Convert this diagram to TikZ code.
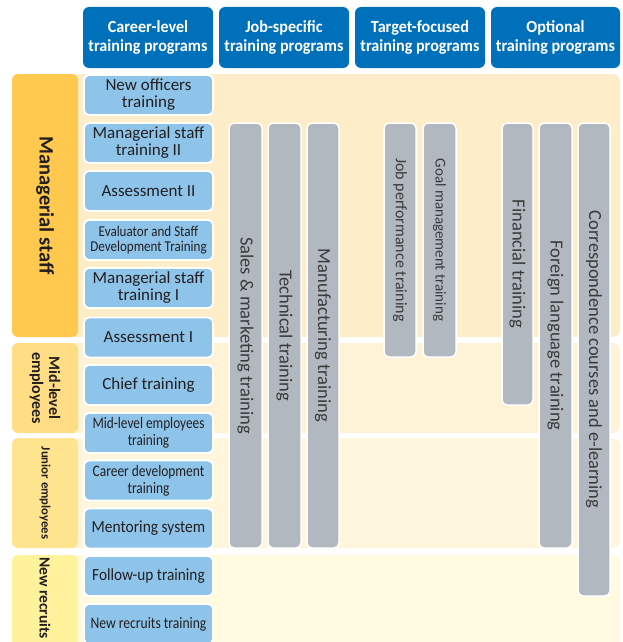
\documentclass[tikz,border=0pt]{standalone}
\usepackage{fontspec}
\setmainfont{Carlito}
\newfontfamily\cfEval[FakeStretch=0.87]{Carlito}
\newfontfamily\cfMid[FakeStretch=0.83]{Carlito}
\newfontfamily\cfCar[FakeStretch=0.84]{Carlito}
\newfontfamily\cfMen[FakeStretch=0.91]{Carlito}
\newfontfamily\cfFol[FakeStretch=0.9]{Carlito}
\newfontfamily\cfNew[FakeStretch=0.85]{Carlito}
\newfontfamily\cfHdr[FakeStretch=0.95]{Carlito}
\definecolor{hdrblue}{HTML}{0070BA}
\definecolor{boxblue}{HTML}{8EC4E9}
\definecolor{bargray}{HTML}{B2B8BF}
\definecolor{txt}{HTML}{231F20}
\definecolor{bartxt}{HTML}{3A3A3A}
\definecolor{bandA}{HTML}{FDEDC9}
\definecolor{bandB}{HTML}{FEF3D6}
\definecolor{bandC}{HTML}{FFF6DD}
\definecolor{bandD}{HTML}{FFFAE0}
\definecolor{lblA}{HTML}{FFC94F}
\definecolor{lblB}{HTML}{FFDD85}
\definecolor{lblC}{HTML}{FFE48F}
\definecolor{lblD}{HTML}{FFF29C}
\begin{document}
\begin{tikzpicture}[x=1pt,y=-1pt,
  hdr/.style={fill=hdrblue,rounded corners=6pt,minimum height=61pt,inner sep=0pt,
    text=white,align=center,font=\cfHdr\bfseries\fontsize{17}{19}\selectfont},
  bbox/.style={draw=white,line width=1.8pt,fill=boxblue,rounded corners=5pt,
    minimum width=129pt,minimum height=40pt,inner sep=0pt,align=center,text=txt,
    font=\fontsize{17}{17}\selectfont},
  gbar/.style={draw=white,line width=1.5pt,fill=bargray,rounded corners=5pt,
    rotate=-90,inner sep=0pt,text=bartxt,font=\fontsize{18.5}{18.5}\selectfont},
  lbl/.style={rounded corners=6pt,rotate=-90,inner sep=0pt,minimum height=66pt,
    text=txt,align=center},
]
\clip (0,0) rectangle (623,642);
\fill[white] (0,0) rectangle (623,642);
% background bands
\fill[bandA,rounded corners=8pt] (70,74) rectangle (620,337);
\fill[bandB,rounded corners=8pt] (70,343) rectangle (620,433);
\fill[bandC,rounded corners=8pt] (70,438) rectangle (620,548);
\fill[bandD,rounded corners=8pt] (70,555) rectangle (620,660);
% headers
\node[hdr,minimum width=130pt] (h1) at (148,37.5) {Career-level\\training programs};
\node[hdr,minimum width=130pt] (h2) at (284,37.5) {Job-specific\\training programs};
\node[hdr,minimum width=130pt] (h3) at (420,37.5) {Target-focused\\training programs};
\node[hdr,minimum width=129pt] (h4) at (555.5,37.5) {Optional\\training programs};
% left labels
\node[lbl,fill=lblA,minimum width=263pt,font=\bfseries\fontsize{20.5}{20.5}\selectfont] (lA) at (45,205.5) {Managerial staff};
\node[lbl,fill=lblB,minimum width=90pt,font=\bfseries\fontsize{16}{17}\selectfont] (lB) at (45,388) {Mid-level\\employees};
\node[lbl,fill=lblC,minimum width=110pt,font=\bfseries\fontsize{12.7}{13}\selectfont] (lC) at (45,493) {Junior employees};
\fill[lblD,rounded corners=6pt] (12,555) rectangle (78,660);
\node[rotate=-90,inner sep=0pt,text=txt,font=\bfseries\fontsize{15.5}{15.5}\selectfont] (lD) at (45,598) {New recruits};
% career-level boxes
\node[bbox] (r1) at (148.5,95) {New officers\\training};
\node[bbox] (r2) at (148.5,143) {Managerial staff\\training II};
\node[bbox] (r3) at (148.5,191) {Assessment II};
\node[bbox,font=\cfEval\fontsize{15}{15}\selectfont] (r4) at (148.5,240) {Evaluator and Staff\\Development Training};
\node[bbox] (r5) at (148.5,288) {Managerial staff\\training I};
\node[bbox] (r6) at (148.5,337.5) {Assessment I};
\node[bbox] (r7) at (148.5,385) {Chief training};
\node[bbox,font=\cfMid\fontsize{16}{17}\selectfont] (r8) at (148.5,433) {Mid-level employees\\training};
\node[bbox,font=\cfCar\fontsize{16}{17}\selectfont] (r9) at (148.5,480.5) {Career development\\training};
\node[bbox,font=\cfMen\fontsize{17}{17}\selectfont] (r10) at (148.5,528.5) {Mentoring system};
\node[bbox,font=\cfFol\fontsize{17}{17}\selectfont] (r11) at (148.5,576) {Follow-up training};
\node[bbox,font=\cfNew\fontsize{16}{16}\selectfont] (r12) at (148.5,624) {New recruits training};
% gray bars
\node[gbar,minimum width=425pt,minimum height=33pt] (b1) at (245.5,335.5) {Sales \& marketing training};
\node[gbar,minimum width=425pt,minimum height=33pt] (b2) at (284.5,335.5) {Technical training};
\node[gbar,minimum width=425pt,minimum height=32pt] (b3) at (323,335.5) {Manufacturing training};
\node[gbar,minimum width=234pt,minimum height=32pt,font=\fontsize{16}{16}\selectfont] (b4) at (400,240) {Job performance training};
\node[gbar,minimum width=234pt,minimum height=33pt,font=\fontsize{15}{15}\selectfont] (b5) at (439.5,240) {Goal management training};
\node[gbar,minimum width=282pt,minimum height=31pt] (b6) at (517.5,264) {Financial training};
\node[gbar,minimum width=425pt,minimum height=33pt] (b7) at (555.5,335.5) {Foreign language training};
\node[gbar,minimum width=473pt,minimum height=32pt] (b8) at (594,359.5) {Correspondence courses and e-learning};
\end{tikzpicture}
\end{document}
